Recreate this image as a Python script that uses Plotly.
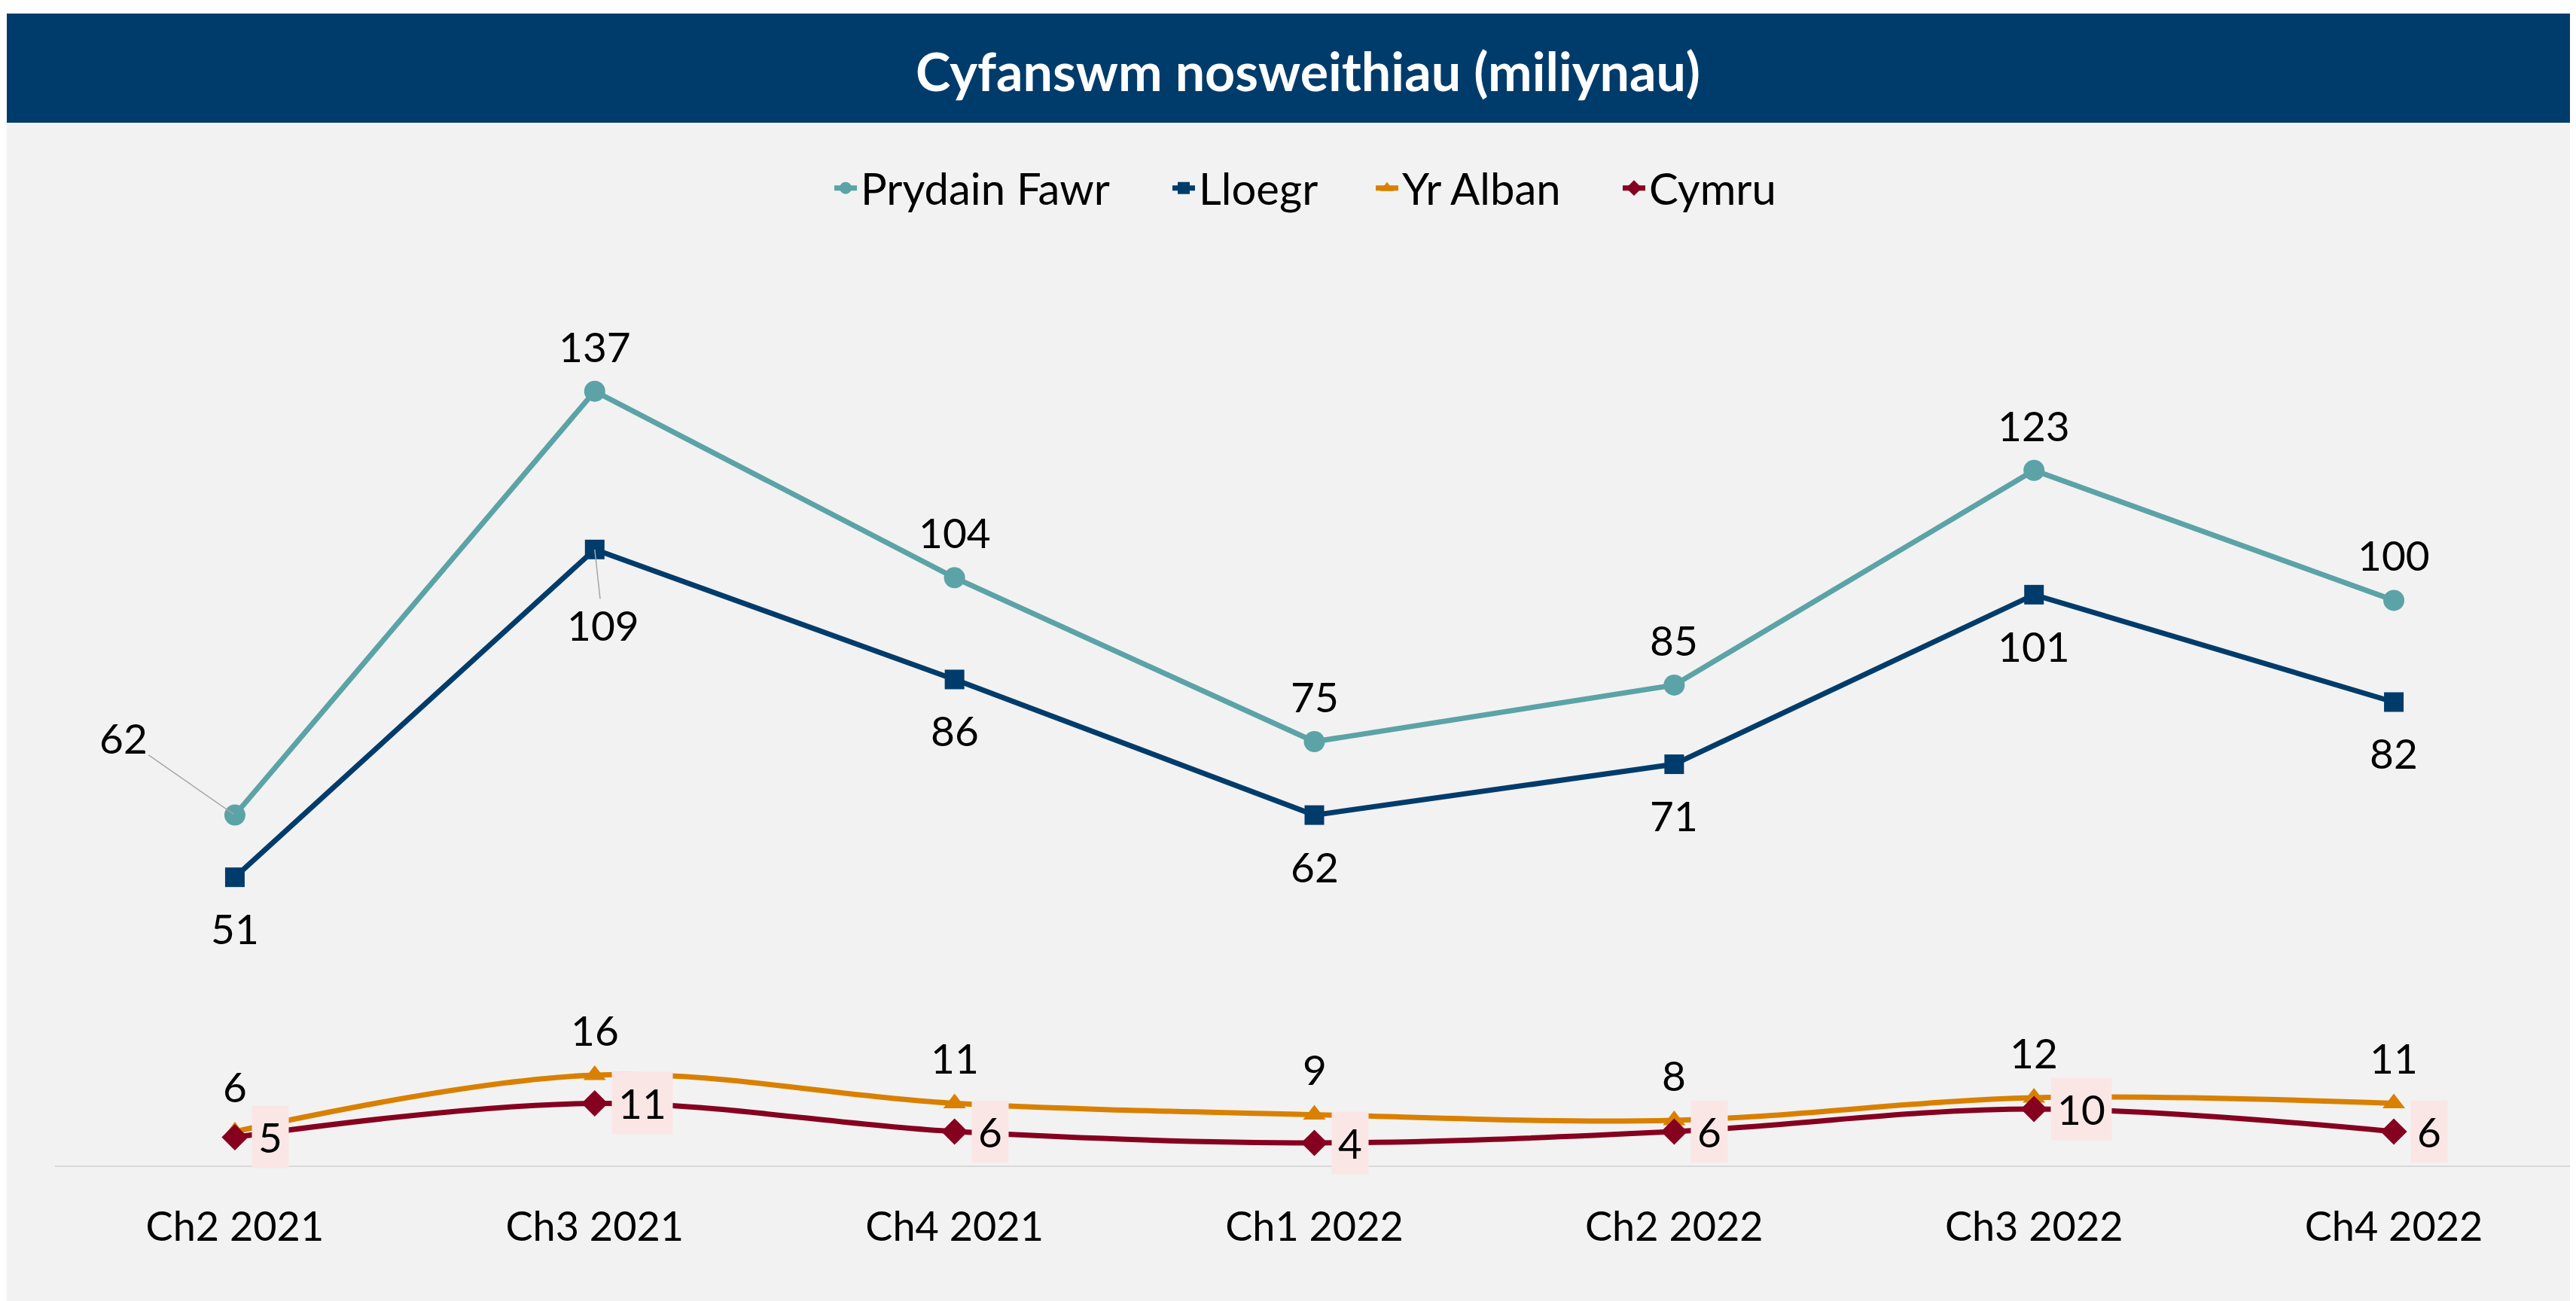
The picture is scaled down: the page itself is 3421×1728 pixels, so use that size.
import plotly.graph_objects as go

# quarters and nights (millions)
quarters = ["Ch2 2021", "Ch3 2021", "Ch4 2021", "Ch1 2022", "Ch2 2022", "Ch3 2022", "Ch4 2022"]
prydain_fawr = [62, 137, 104, 75, 85, 123, 100]
lloegr = [51, 109, 86, 62, 71, 101, 82]
yr_alban = [6, 16, 11, 9, 8, 12, 11]
cymru = [5, 11, 6, 4, 6, 10, 6]

FONT = "Lato"
W, H = 3421, 1728
OFF = 8  # page body margin in the browser
ML, MT = 73 - OFF, 347 - OFF
MR, MB = W - (3418 - OFF), H - (1548 - OFF)
PW, PH = W - ML - MR, H - MT - MB


def px_x(px):
    return (px - OFF - ML) / PW


def px_y(py):
    return (H - MB - (py - OFF)) / PH


fig = go.Figure()

series = [
    ("Prydain Fawr", prydain_fawr, "#5BA3A6", "circle", 28, "linear", 1123),
    ("Lloegr", lloegr, "#003C6B", "square", 26, "linear", 1572),
    ("Yr Alban", yr_alban, "#D98000", "triangle-up", 26, "spline", 1842),
    ("Cymru", cymru, "#86001F", "diamond", 27, "spline", 2170),
]
legends = {}
for k, (name, vals, col, sym, size, shape, lx) in enumerate(series):
    lg = "legend" if k == 0 else "legend%d" % (k + 1)
    fig.add_trace(go.Scatter(
        x=quarters, y=vals, name=name, mode="lines+markers",
        line=dict(color=col, width=7, shape=shape, smoothing=1),
        marker=dict(symbol=sym, size=size, color=col),
        legend=lg, showlegend=True,
    ))
    legends[lg] = dict(orientation="h", x=px_x(lx - 20), xanchor="left",
                       y=px_y(250), yanchor="middle",
                       font=dict(size=58, family=FONT, color="black"),
                       bgcolor="rgba(0,0,0,0)", borderwidth=0)

ann = []
lab = dict(size=55, color="black", family=FONT)
for i, q in enumerate(quarters):
    # Prydain Fawr above (first one has a leader line)
    if i == 0:
        ann.append(dict(x=q, y=prydain_fawr[i], text=str(prydain_fawr[i]), font=lab,
                        showarrow=True, arrowhead=0, arrowwidth=1.5, arrowcolor="#A6A6A6",
                        ax=-148, ay=-103, standoff=2))
    else:
        ann.append(dict(x=q, y=prydain_fawr[i], text=str(prydain_fawr[i]), font=lab,
                        showarrow=False, yshift=60))
    # Lloegr below
    if i == 1:
        ann.append(dict(x=q, y=lloegr[i], text=str(lloegr[i]), font=lab,
                        showarrow=True, arrowhead=0, arrowwidth=1.5, arrowcolor="#A6A6A6",
                        ax=11, ay=100, standoff=0))
    else:
        ann.append(dict(x=q, y=lloegr[i], text=str(lloegr[i]), font=lab,
                        showarrow=False, yshift=-68))
    # Yr Alban above
    ann.append(dict(x=q, y=yr_alban[i], text=str(yr_alban[i]), font=lab,
                    showarrow=False, yshift=60))
    # Cymru right, pink box
    ann.append(dict(x=q, y=cymru[i], text=str(cymru[i]), font=lab,
                    showarrow=False, xanchor="left", xshift=22,
                    bgcolor="#FBE6E6", borderpad=8))

shapes = [
    # title bar
    dict(type="rect", xref="paper", yref="paper", x0=px_x(9), x1=px_x(W + 20),
         y0=px_y(163), y1=px_y(18), fillcolor="#003C6B", line=dict(width=0), layer="above"),
    # white strips at top and left
    dict(type="rect", xref="paper", yref="paper", x0=px_x(-5), x1=px_x(W + 20),
         y0=px_y(18), y1=px_y(-5), fillcolor="white", line=dict(width=0), layer="above"),
    dict(type="rect", xref="paper", yref="paper", x0=px_x(-5), x1=px_x(9),
         y0=px_y(H + 20), y1=px_y(-5), fillcolor="white", line=dict(width=0), layer="above"),
]

fig.update_layout(
    width=W, height=H,
    margin=dict(l=ML, r=MR, t=MT, b=MB),
    paper_bgcolor="#F2F2F2", plot_bgcolor="#F2F2F2",
    font=dict(family=FONT, color="black"),
    showlegend=True,
    title=dict(text="<b>Cyfanswm nosweithiau (miliynau)</b>",
               font=dict(family=FONT, size=70, color="white"),
               xref="container", yref="container", x=(1737 - OFF) / W, y=1 - (96 - OFF) / H,
               xanchor="center", yanchor="middle"),
    xaxis=dict(type="category", range=[-0.5, 6.5], showgrid=False, zeroline=False,
               showline=True, linecolor="#D9D9D9", linewidth=2, ticks="",
               tickfont=dict(size=54, family=FONT, color="black"), ticklabelstandoff=33),
    yaxis=dict(range=[0, 160], visible=False),
    annotations=ann,
    shapes=shapes,
    **legends,
)

fig.write_html("out.html")
